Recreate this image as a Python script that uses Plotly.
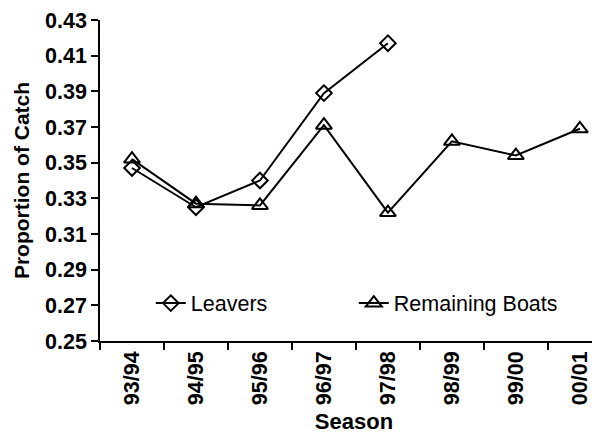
import plotly.graph_objects as go

seasons = ["93/94", "94/95", "95/96", "96/97", "97/98", "98/99", "99/00", "00/01"]
leavers = [0.347, 0.325, 0.340, 0.389, 0.417]
remaining = [0.352, 0.327, 0.326, 0.371, 0.322, 0.362, 0.354, 0.369]
y_ticks = [0.25, 0.27, 0.29, 0.31, 0.33, 0.35, 0.37, 0.39, 0.41, 0.43]

FONT = "Liberation Sans, Arial, sans-serif"

fig = go.Figure()
fig.add_trace(go.Scatter(
    x=seasons[:len(leavers)], y=leavers, name="Leavers", mode="lines+markers",
    line=dict(color="black", width=2),
    marker=dict(symbol="diamond-open", size=12, color="black", line=dict(width=2, color="black")),
))
fig.add_trace(go.Scatter(
    x=seasons, y=remaining, name="Remaining Boats", mode="lines+markers",
    line=dict(color="black", width=2),
    marker=dict(symbol="triangle-up-open", size=14, color="black", line=dict(width=2, color="black")),
))

# the page body has an 8px margin, so the figure is offset by 8px; margins compensate
fig.update_layout(
    width=600, height=434,
    margin=dict(l=92, r=0, t=12, b=101),
    paper_bgcolor="white", plot_bgcolor="white",
    font=dict(family=FONT, color="black"),
    showlegend=True,
    legend=dict(
        orientation="h", x=0.10, y=0.118, xanchor="left", yanchor="middle",
        font=dict(size=21.5, family=FONT, color="black"),
        entrywidth=158, bgcolor="rgba(0,0,0,0)",
    ),
    xaxis=dict(
        type="category", categoryorder="array", categoryarray=seasons,
        range=[-0.5, 7.44], tickson="boundaries", ticks="outside", ticklen=7,
        tickcolor="black", tickwidth=1.5, automargin=False,
        showline=True, linecolor="black", linewidth=1.5, showgrid=False, zeroline=False,
        tickangle=-90, tickfont=dict(size=21.5, family=FONT, weight="bold"),
        title=dict(text="<b>Season</b>", font=dict(size=22, family=FONT), standoff=9),
    ),
    yaxis=dict(
        range=[0.25, 0.43], tickvals=y_ticks, tickformat=".2f",
        ticks="outside", ticklen=7, tickcolor="black", tickwidth=1.5, automargin=False,
        showline=True, linecolor="black", linewidth=1.5, showgrid=False, zeroline=False,
        tickfont=dict(size=21.5, family=FONT, weight="bold"),
        title=dict(text="<b>Proportion of Catch</b>", font=dict(size=21, family=FONT), standoff=10),
    ),
)

fig.write_html("out.html")
